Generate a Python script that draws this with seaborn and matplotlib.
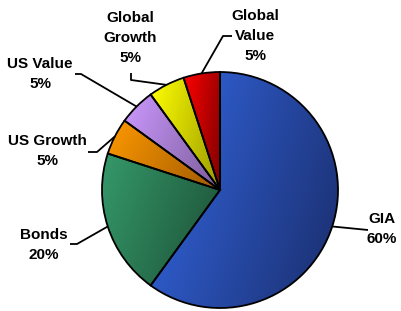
import numpy as np
import matplotlib
matplotlib.use("Agg")
import matplotlib.pyplot as plt
import seaborn as sns

# ---- data ----
labels = ["GIA", "Bonds", "US Growth", "US Value", "Global Growth", "Global Value"]
values = [60, 20, 5, 5, 5, 5]
label_texts = ["GIA\n60%", "Bonds\n20%", "US Growth\n5%", "US Value\n5%", "Global\nGrowth\n5%", "Global\nValue\n5%"]
light_colors = ["#3468e4", "#35996a", "#ff9a00", "#cc99ff", "#ffff00", "#ff0000"]
dark_colors = ["#1a2d6c", "#1c4f36", "#9e5800", "#7a5c99", "#9a9a00", "#7e0000"]

sns.set_theme(style="white")
plt.rcParams['font.family'] = ['Liberation Sans', 'DejaVu Sans']

W, H = 402, 311
CX, CY, R = 220, 190, 118  # pie centre / radius in pixels (layout)


def px(x, y):
    return ((x - CX) / R, (CY - y) / R)


fig = plt.figure(figsize=(W / 100, H / 100), dpi=100)
ax = fig.add_axes([0, 0, 1, 1])

wedges, _ = ax.pie(values, startangle=90, counterclock=False, radius=1,
                   colors=light_colors,
                   wedgeprops=dict(edgecolor="black", linewidth=1.3, zorder=2))

# gradient fill, clipped to each wedge
for w, lc, dc in zip(wedges, light_colors, dark_colors):
    w.set_facecolor("none")
    ext = w.get_path().get_extents(w.get_patch_transform())
    nx, ny = 200, 200
    xx, yy = np.meshgrid(np.linspace(0, 1, nx), np.linspace(0, 1, ny))
    t = np.clip(0.72 * xx + 0.28 * (1 - yy), 0, 1)
    cmap = sns.blend_palette([lc, dc], n_colors=256, as_cmap=True)
    im = ax.imshow(t, cmap=cmap, extent=[ext.x0, ext.x1, ext.y0, ext.y1],
                   origin="lower", aspect="auto", zorder=1, interpolation="bilinear")
    im.set_clip_path(w)

# labels and leader lines
label_pos = [(382, 229), (44, 245), (47, 151), (40, 74), (130, 38), (255, 36)]
bends = [
    [(368, 230)],
    [(70, 244), (77, 244)],
    [(88, 152), (97, 152)],
    [(75, 74), (81, 74)],
    [(131, 73), (131, 80)],
    [(232, 36), (223, 36)],
]
total = sum(values)
cum = 0
for v, txt, lp, bp in zip(values, label_texts, label_pos, bends):
    mid = np.deg2rad(90 - 360 * (cum + v / 2) / total)
    cum += v
    edge = (np.cos(mid), np.sin(mid))
    pts = [px(*p) for p in bp] + [edge]
    ax.plot([p[0] for p in pts], [p[1] for p in pts], color="black", lw=1.3,
            solid_capstyle="butt", zorder=3)
    tx, ty = px(*lp)
    ax.text(tx, ty, txt, ha="center", va="center", multialignment="center",
            fontsize=11, fontweight="bold", color="black", linespacing=1.55)

ax.set_xlim(-CX / R, (W - CX) / R)
ax.set_ylim(-(H - CY) / R, CY / R)
ax.set_aspect("auto")
ax.axis("off")

fig.savefig("out.png", dpi=100)
